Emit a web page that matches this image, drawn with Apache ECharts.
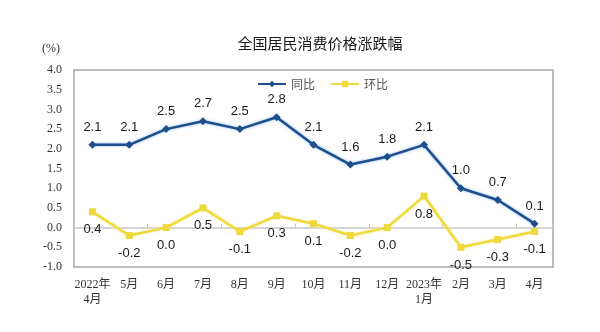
<!DOCTYPE html>
<html>
<head>
<meta charset="utf-8">
<script src="https://cdn.jsdelivr.net/npm/echarts@6/dist/echarts.min.js"></script>
<style>
html,body{margin:0;padding:0;background:#fff;}
#chart{width:600px;height:332px;}
</style>
</head>
<body>
<div id="chart"></div>
<script>
// Months along the x axis
const months = ['2022年\n4月','5月','6月','7月','8月','9月','10月','11月','12月','2023年\n1月','2月','3月','4月'];
// Year-on-year change (%)
const yoy = [2.1, 2.1, 2.5, 2.7, 2.5, 2.8, 2.1, 1.6, 1.8, 2.1, 1.0, 0.7, 0.1];
// Month-on-month change (%)
const mom = [0.4, -0.2, 0.0, 0.5, -0.1, 0.3, 0.1, -0.2, 0.0, 0.8, -0.5, -0.3, -0.1];

const serif = '"Liberation Serif","DejaVu Serif","Noto Sans CJK SC",serif';
const sans = '"Liberation Sans","Noto Sans CJK SC",sans-serif';

const chart = echarts.init(document.getElementById('chart'));
chart.setOption({
  animation: false,
  backgroundColor: '#fff',
  title: {
    text: '全国居民消费价格涨跌幅',
    left: 315, top: 31, textAlign: 'center',
    textStyle: { fontFamily: '"Noto Sans CJK SC",sans-serif', fontSize: 15, fontWeight: 'normal', color: '#1a1a1a' }
  },
  legend: {
    top: 73, left: 252,
    itemWidth: 28, itemHeight: 8, itemGap: 15,
    textStyle: { fontFamily: '"Noto Sans CJK SC",sans-serif', fontSize: 12, color: '#555' },
    data: ['同比', '环比']
  },
  graphic: [{
    type: 'text', left: 42, top: 43,
    style: { text: '(%)', font: '12px ' + serif, fill: '#333' }
  }],
  grid: { left: 74, right: 47, top: 70, bottom: 65, show: true, borderColor: '#a6a6a6', borderWidth: 1.5 },
  xAxis: [{
    type: 'category', data: months, boundaryGap: true,
    axisLine: { onZero: true, lineStyle: { color: '#c8c8c8', width: 1.5 } },
    axisTick: { show: true, inside: true, length: 4, lineStyle: { color: '#c8c8c8' } },
    axisLabel: { show: false }
  }, {
    type: 'category', data: months, boundaryGap: true, position: 'bottom',
    axisLine: { show: false, onZero: false },
    axisTick: { show: false },
    axisLabel: { fontFamily: serif, fontSize: 12, color: '#333', margin: 10, interval: 0, lineHeight: 15 }
  }],
  yAxis: {
    type: 'value', min: -1, max: 4, interval: 0.5,
    axisLine: { show: false },
    axisTick: { show: false },
    splitLine: { show: false },
    axisLabel: { fontFamily: serif, fontSize: 12, color: '#333', margin: 12, formatter: v => v.toFixed(1) }
  },
  series: [{
    name: '同比', type: 'line', data: yoy, xAxisIndex: 0,
    symbol: 'diamond', symbolSize: 8, showAllSymbol: true,
    itemStyle: { color: '#1f4e8c' },
    lineStyle: { color: '#1f4e8c', width: 2.5, shadowColor: 'rgba(120,180,235,0.9)', shadowBlur: 3 },
    label: { show: true, position: 'top', distance: 7, formatter: p => p.value.toFixed(1),
             fontFamily: sans, fontSize: 13, color: '#1a1a1a' },
    z: 3
  }, {
    name: '环比', type: 'line', data: mom, xAxisIndex: 0,
    symbol: 'rect', symbolSize: 7, showAllSymbol: true,
    itemStyle: { color: '#efd93c' },
    lineStyle: { color: '#efd93c', width: 2.5, shadowColor: 'rgba(245,235,150,0.9)', shadowBlur: 3 },
    label: { show: true, position: 'bottom', distance: 8, formatter: p => p.value.toFixed(1),
             fontFamily: sans, fontSize: 13, color: '#1a1a1a' },
    z: 2
  }]
});
</script>
</body>
</html>
